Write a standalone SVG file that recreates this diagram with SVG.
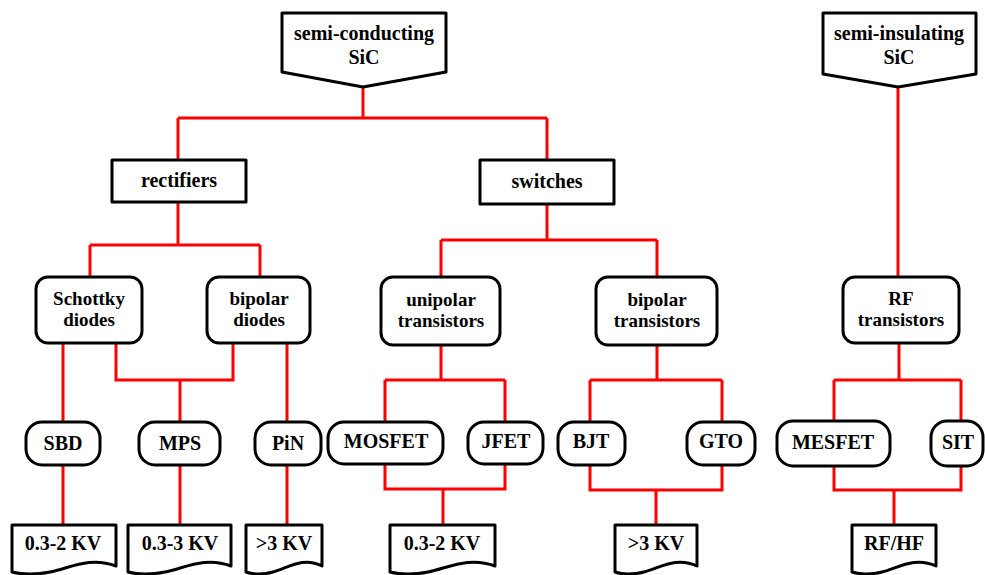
<svg xmlns="http://www.w3.org/2000/svg" width="985" height="575" viewBox="0 0 985 575">
<style>
.b{fill:#fff;stroke:#000;stroke-width:3;stroke-linejoin:round}
.c{fill:none;stroke:#ff0000;stroke-width:3}
text{font-family:"Liberation Serif","Times New Roman",serif;font-weight:bold;font-size:20px;fill:#000;text-anchor:middle}
text.s{font-size:19px}
</style>
<rect width="985" height="575" fill="#fff"/>
<g id="connectors" class="c">
<path d="M363,87V118M178,118H547M178,118V160M547,118V160"/>
<path d="M178,202V245M90,245H260M90,245V277M260,245V277"/>
<path d="M547,204V240M441,240H657M441,240V277M657,240V277"/>
<path d="M63,343V422M116,343V380H233V343M180,380V422M287,343V422"/>
<path d="M63,465V525M180,465V525M287,465V525"/>
<path d="M441,345V380M385,380H505M385,380V422M505,380V422"/>
<path d="M657,345V380M590,380H722M590,380V422M722,380V422"/>
<path d="M385,464V489H505V464M443,489V525"/>
<path d="M590,465V490H722V465M656,490V525"/>
<path d="M898,87V277M899,343V380M834,380H961M834,380V421M961,380V421"/>
<path d="M834,466V490H961V466M894,490V525"/>
</g>
<g id="semi-conducting"><polygon class="b" points="282,13 446,13 446,72 363,87 282,72"/><text x="364" y="40">semi-conducting</text><text x="364" y="64">SiC</text></g>
<g id="semi-insulating"><polygon class="b" points="823,13 976,13 976,74 898,87 823,74"/><text x="899" y="40">semi-insulating</text><text x="899" y="64">SiC</text></g>
<g id="rectifiers"><rect class="b" x="112" y="160" width="134" height="42"/><text x="179" y="187">rectifiers</text></g>
<g id="switches"><rect class="b" x="480" y="160" width="134" height="44"/><text x="547" y="188">switches</text></g>
<g id="schottky"><rect class="b" x="36" y="277" width="106" height="66" rx="12"/><text class="s" x="89" y="305">Schottky</text><text class="s" x="89" y="326">diodes</text></g>
<g id="bipolar-diodes"><rect class="b" x="207" y="277" width="103" height="66" rx="12"/><text class="s" x="259" y="305">bipolar</text><text class="s" x="259" y="326">diodes</text></g>
<g id="unipolar"><rect class="b" x="381" y="277" width="119" height="68" rx="12"/><text class="s" x="441" y="306">unipolar</text><text class="s" x="441" y="327">transistors</text></g>
<g id="bipolar-transistors"><rect class="b" x="596" y="277" width="121" height="68" rx="12"/><text class="s" x="657" y="306">bipolar</text><text class="s" x="657" y="327">transistors</text></g>
<g id="rf-transistors"><rect class="b" x="843" y="277" width="116" height="66" rx="12"/><text class="s" x="901" y="305">RF</text><text class="s" x="901" y="326">transistors</text></g>
<g id="sbd"><rect class="b" x="26" y="422" width="74" height="43" rx="16"/><text x="63" y="450">SBD</text></g>
<g id="mps"><rect class="b" x="139" y="422" width="81" height="43" rx="16"/><text x="180" y="450">MPS</text></g>
<g id="pin"><rect class="b" x="255" y="422" width="66" height="43" rx="16"/><text x="288" y="450">PiN</text></g>
<g id="mosfet"><rect class="b" x="328" y="422" width="115" height="42" rx="16"/><text x="386" y="448">MOSFET</text></g>
<g id="jfet"><rect class="b" x="468" y="422" width="75" height="42" rx="16"/><text x="506" y="448">JFET</text></g>
<g id="bjt"><rect class="b" x="558" y="422" width="67" height="43" rx="16"/><text x="591" y="448">BJT</text></g>
<g id="gto"><rect class="b" x="687" y="422" width="68" height="43" rx="16"/><text x="721" y="448">GTO</text></g>
<g id="mesfet"><rect class="b" x="777" y="421" width="113" height="45" rx="16"/><text x="833" y="449">MESFET</text></g>
<g id="sit"><rect class="b" x="931" y="421" width="52" height="45" rx="16"/><text x="958" y="449">SIT</text></g>
<g id="doc1"><path class="b" d="M12,525H116V566C90,556 70,568 50,572C35,575 20,574 12,572Z"/><text x="63" y="550">0.3-2 KV</text></g>
<g id="doc2"><path class="b" d="M128,525H231V566C205,556 185,568 165,572C150,575 136,574 128,572Z"/><text x="180" y="550">0.3-3 KV</text></g>
<g id="doc3"><path class="b" d="M246,525H322V566C303,556 288,568 273,572C262,575 252,574 246,572Z"/><text x="284" y="550">&gt;3 KV</text></g>
<g id="doc4"><path class="b" d="M390,525H495V566C469,556 448,568 428,572C413,575 398,574 390,572Z"/><text x="442" y="550">0.3-2 KV</text></g>
<g id="doc5"><path class="b" d="M615,525H697V566C676,556 660,568 644,572C632,575 621,574 615,572Z"/><text x="656" y="550">&gt;3 KV</text></g>
<g id="doc6"><path class="b" d="M852,525H936V566C915,556 898,568 882,572C870,575 858,574 852,572Z"/><text x="894" y="550">RF/HF</text></g>
</svg>
